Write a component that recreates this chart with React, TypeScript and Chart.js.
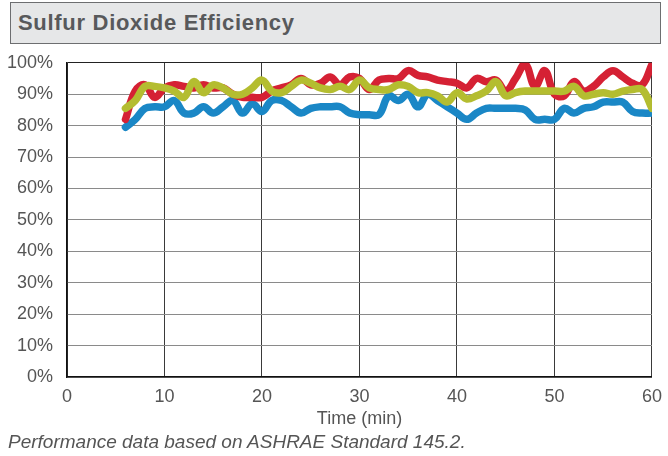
import React, { useEffect, useRef } from "react";
import { Chart, registerables } from "chart.js";

Chart.register(...registerables);

const times = [6,7,8,9,10,11,12,13,14,15,16,17,18,19,20,21,22,23,24,25,26,27,28,29,30,31,32,33,34,35,36,37,38,39,40,41,42,43,44,45,46,47,48,49,50,51,52,53,54,55,56,57,58,59,60];

const redSeries = [82,91,93,89,92,93,92.5,92,93,92,92,90,89,89,89,91,92,93,95,93,93.5,95.5,93,95.5,95,91.5,94.5,95,95,97.5,96,95.5,94.5,94,93.5,92,95,94,94.5,91,95,99.5,92.5,97.5,90,89.5,94,91,92.5,95.5,97.5,95.5,93.5,93,99.5];

const blueSeries = [79.5,82,85.5,86,86,88,84,84,86,84,86,88,84,87,84.5,88,88,86,84,85.5,86,86,86,84,83.5,83.5,83.5,89.5,88,90,86,90,88,86,84,82,84,85.5,85.5,85.5,85.5,85,82,82,82,85.5,84,85.5,86,87.5,87.5,87.5,84.5,84,84];

const yellowSeries = [85.5,88,92.5,92.5,92,91,89,94,90.5,93,92,90,90,92,94.5,91,90.5,92.5,94.5,93.5,92,91.5,92.5,91.5,94.5,92,91.5,91.5,93,92.5,90.5,90.5,89.5,87.5,90.5,88.5,89.5,91,94,89.5,90.5,91,91,91,91,91,92.5,89.5,90,90.5,90,91,91.5,91.5,85.5];

const xTicks = [0, 10, 20, 30, 40, 50, 60];
const yTicks = [0, 10, 20, 30, 40, 50, 60, 70, 80, 90, 100];

const titleText = "Sulfur Dioxide Efficiency";
const xTitle = "Time (min)";
const footnote = "Performance data based on ASHRAE Standard 145.2.";

const toPts = (vals: number[]) => vals.map((v, i) => ({ x: times[i], y: v }));

export default function App() {
  const ref = useRef<HTMLCanvasElement | null>(null);
  useEffect(() => {
    if (!ref.current) return;
    const tickFont = { family: "'Liberation Sans', Arial, sans-serif", size: 18 };
    const lineStyle = { borderWidth: 7.5, pointRadius: 0, tension: 0.4, borderCapStyle: "round", borderJoinStyle: "round", fill: false };
    const chart = new Chart(ref.current, {
      type: "line",
      data: {
        datasets: [
          { label: "Yellow", data: toPts(yellowSeries), borderColor: "#b4bd30", ...lineStyle },
          { label: "Red", data: toPts(redSeries), borderColor: "#d52134", ...lineStyle },
          { label: "Blue", data: toPts(blueSeries), borderColor: "#1a87c6", ...lineStyle },
        ],
      },
      options: {
        animation: false,
        responsive: false,
        maintainAspectRatio: false,
        layout: { padding: { top: 10, right: 0, left: 0, bottom: 0 } },
        plugins: { legend: { display: false }, tooltip: { enabled: false } },
        scales: {
          x: {
            type: "linear",
            min: 0,
            max: 60,
            afterBuildTicks: (s: any) => { s.ticks = xTicks.map((v) => ({ value: v })); },
            afterFit: (s: any) => { s.height = 55; },
            ticks: { color: "#555", font: tickFont, padding: 9, maxRotation: 0 },
            grid: { color: "#3a3a3a", lineWidth: 1, drawTicks: false },
            border: { color: "#111", width: 1.5 },
            title: { display: true, text: xTitle, color: "#555", font: tickFont, padding: { top: 0, bottom: 2 } },
          },
          y: {
            type: "linear",
            min: 0,
            max: 100,
            afterBuildTicks: (s: any) => { s.ticks = yTicks.map((v) => ({ value: v })); },
            afterFit: (s: any) => { s.width = 67; },
            ticks: { color: "#555", font: tickFont, padding: 14, callback: (v: any) => v + "%" },
            grid: { color: (c: any) => (c.tick && c.tick.value === 100 ? "#222" : "#8a8a8a"), lineWidth: 1, drawTicks: false },
            border: { color: "#111", width: 1.5 },
          },
        },
      },
    } as any);
    return () => chart.destroy();
  }, []);

  return (
    <div style={{ position: "absolute", left: 0, top: 0, width: 668, height: 456, background: "#fff", overflow: "hidden" }}>
      <div style={{ position: "absolute", left: 10, top: 2, width: 649, height: 40, background: "#e6e7e8", border: "1px solid #6d6e70" }}>
        <div style={{ position: "absolute", left: 7, top: 7, fontFamily: "'Liberation Sans', Arial, sans-serif", fontWeight: "bold", fontSize: 22, letterSpacing: 0.7, color: "#58595b", whiteSpace: "nowrap" }}>{titleText}</div>
      </div>
      <canvas ref={ref} width={671} height={394} style={{ position: "absolute", left: 0, top: 38, width: 671, height: 394 }} />
      <div style={{ position: "absolute", left: 8, top: 431, fontFamily: "'Liberation Sans', Arial, sans-serif", fontStyle: "italic", fontSize: 19, color: "#555", whiteSpace: "nowrap" }}>{footnote}</div>
    </div>
  );
}
